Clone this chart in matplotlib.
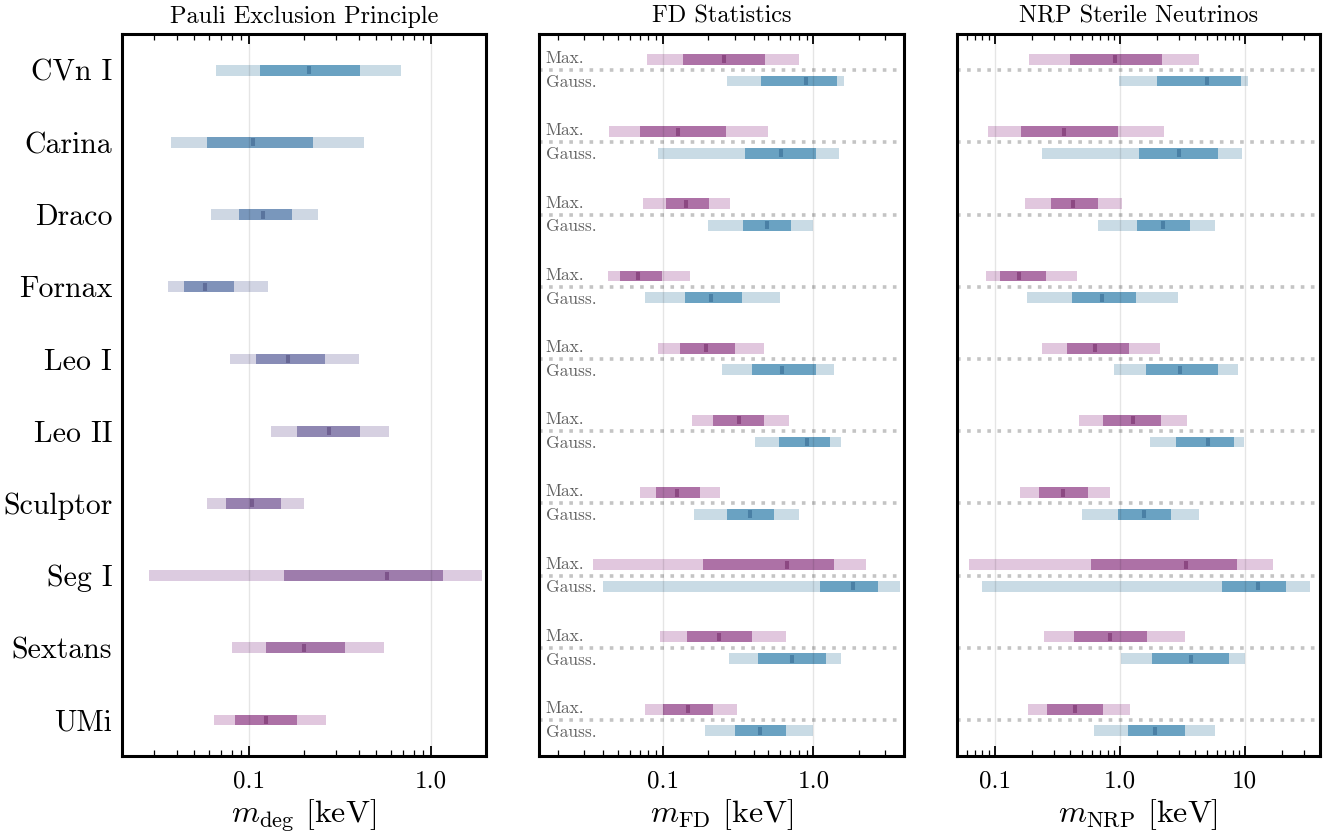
import numpy as np
import matplotlib
matplotlib.use("Agg")
import matplotlib.pyplot as plt
from matplotlib.ticker import FixedLocator, FixedFormatter, LogLocator, NullFormatter
from matplotlib.transforms import blended_transform_factory

plt.rcParams["font.family"] = "serif"
plt.rcParams["font.serif"] = ["cmr10", "DejaVu Serif"]
plt.rcParams["mathtext.fontset"] = "cm"
plt.rcParams["axes.unicode_minus"] = False
plt.rcParams["axes.formatter.use_mathtext"] = True

# galaxies (top to bottom)
galaxies = ["CVn I", "Carina", "Draco", "Fornax", "Leo I", "Leo II",
            "Sculptor", "Seg I", "Sextans", "UMi"]

# Pauli exclusion: 95% lo, 68% lo, median, 68% hi, 95% hi  [keV]
deg_lo95 = [0.066, 0.037, 0.062, 0.036, 0.078, 0.131, 0.059, 0.028, 0.080, 0.064]
deg_lo68 = [0.114, 0.059, 0.088, 0.044, 0.109, 0.182, 0.075, 0.156, 0.123, 0.084]
deg_med = [0.214, 0.105, 0.119, 0.057, 0.164, 0.273, 0.103, 0.571, 0.199, 0.123]
deg_hi68 = [0.405, 0.223, 0.171, 0.083, 0.260, 0.405, 0.150, 1.16, 0.335, 0.182]
deg_hi95 = [0.682, 0.426, 0.238, 0.127, 0.400, 0.586, 0.201, 1.91, 0.549, 0.263]

# FD statistics, maximally degenerate
fdmax_lo95 = [0.078, 0.044, 0.074, 0.043, 0.093, 0.156, 0.070, 0.034, 0.096, 0.076]
fdmax_lo68 = [0.136, 0.070, 0.105, 0.052, 0.130, 0.215, 0.090, 0.185, 0.145, 0.100]
fdmax_med = [0.255, 0.126, 0.142, 0.068, 0.194, 0.321, 0.124, 0.671, 0.236, 0.147]
fdmax_hi68 = [0.479, 0.263, 0.203, 0.099, 0.302, 0.471, 0.176, 1.38, 0.392, 0.215]
fdmax_hi95 = [0.807, 0.501, 0.280, 0.151, 0.471, 0.692, 0.240, 2.22, 0.661, 0.311]

# FD statistics, Gaussian
fdg_lo95 = [0.267, 0.093, 0.200, 0.076, 0.247, 0.410, 0.161, 0.040, 0.275, 0.190]
fdg_lo68 = [0.450, 0.352, 0.341, 0.140, 0.392, 0.593, 0.267, 1.114, 0.430, 0.302]
fdg_med = [0.898, 0.612, 0.494, 0.209, 0.621, 0.912, 0.380, 1.82, 0.724, 0.443]
fdg_hi68 = [1.445, 1.047, 0.713, 0.336, 1.047, 1.297, 0.550, 2.67, 1.221, 0.661]
fdg_hi95 = [1.585, 1.468, 1.000, 0.603, 1.360, 1.514, 0.807, 3.74, 1.514, 1.000]

# NRP sterile neutrinos, maximally degenerate
nrpmax_lo95 = [0.19, 0.088, 0.174, 0.085, 0.238, 0.47, 0.161, 0.062, 0.247, 0.184]
nrpmax_lo68 = [0.398, 0.164, 0.28, 0.11, 0.377, 0.731, 0.225, 0.586, 0.429, 0.261]
nrpmax_med = [0.912, 0.356, 0.421, 0.156, 0.631, 1.27, 0.35, 3.37, 0.832, 0.437]
nrpmax_hi68 = [2.17, 0.964, 0.667, 0.256, 1.18, 2.13, 0.555, 8.63, 1.64, 0.731]
nrpmax_hi95 = [4.29, 2.25, 1.04, 0.453, 2.09, 3.44, 0.832, 16.7, 3.31, 1.2]

# NRP sterile neutrinos, Gaussian
nrpg_lo95 = [0.982, 0.238, 0.667, 0.18, 0.895, 1.74, 0.497, 0.0787, 1.02, 0.62]
nrpg_lo68 = [1.98, 1.42, 1.37, 0.413, 1.61, 2.81, 0.964, 6.55, 1.80, 1.16]
nrpg_med = [4.97, 2.96, 2.21, 0.718, 3.02, 5.06, 1.56, 12.7, 3.70, 1.91]
nrpg_hi68 = [9.29, 6.08, 3.63, 1.34, 6.08, 8.17, 2.56, 21.3, 7.45, 3.31]
nrpg_hi95 = [10.57, 9.46, 5.75, 2.91, 8.79, 9.82, 4.29, 33.1, 10.0, 5.75]

blue_dark = np.array([106, 162, 194]) / 255
blue_light = np.array([201, 219, 229]) / 255
blue_med = np.array([74, 128, 165]) / 255
pur_dark = np.array([173, 113, 166]) / 255
pur_light = np.array([225, 199, 222]) / 255
pur_med = np.array([140, 72, 130]) / 255

bar_h = 0.15


def draw_row(ax, y, lo95, lo68, med, hi68, hi95, c_light, c_dark, c_med):
    ax.barh(y, hi95 - lo95, left=lo95, height=bar_h, color=c_light, lw=0, zorder=2)
    ax.barh(y, hi68 - lo68, left=lo68, height=bar_h, color=c_dark, lw=0, zorder=3)
    ax.plot(med, y, marker="|", ms=5.5, mew=2.9, color=c_med, zorder=4)


def style_axis(ax, xlim, major, labels, xlabel, title):
    ax.set_xscale("log")
    ax.set_xlim(*xlim)
    ax.set_ylim(9.5, -0.5)
    ax.xaxis.set_major_locator(FixedLocator(major))
    ax.xaxis.set_major_formatter(FixedFormatter(labels))
    ax.xaxis.set_minor_locator(LogLocator(base=10, subs=np.arange(2, 10), numticks=20))
    ax.xaxis.set_minor_formatter(NullFormatter())
    ax.tick_params(axis="x", which="major", direction="in", top=True, bottom=True,
                   length=7.5, width=1.3, labelsize=18, pad=10)
    ax.tick_params(axis="x", which="minor", direction="in", top=True, bottom=True,
                   length=4.5, width=0.9)
    ax.tick_params(axis="y", length=0)
    for s in ax.spines.values():
        s.set_linewidth(2.2)
    for m in major:
        ax.axvline(m, color=(0, 0, 0, 0.1), lw=1, zorder=5)
    ax.set_xlabel(xlabel, fontsize=23, labelpad=4)
    ax.set_title(title, fontsize=17.5, pad=8)


fig = plt.figure(figsize=(13.3, 8.39), dpi=100)
ax1 = fig.add_axes([0.0917, 0.0989, 0.2737, 0.8605])
ax2 = fig.add_axes([0.4053, 0.0989, 0.2744, 0.8605])
ax3 = fig.add_axes([0.7195, 0.0989, 0.2730, 0.8605])

ypos = np.arange(len(galaxies))

# panel 1: colour shifts from blue to purple down the list
for i in ypos:
    t = i / (len(galaxies) - 1)
    c_d = (1 - t) * blue_dark + t * pur_dark
    c_l = (1 - t) * blue_light + t * pur_light
    c_m = (1 - t) * blue_med + t * pur_med
    draw_row(ax1, i, deg_lo95[i], deg_lo68[i], deg_med[i], deg_hi68[i], deg_hi95[i], c_l, c_d, c_m)
ax1.set_yticks(ypos)
ax1.set_yticklabels(galaxies, fontsize=21.5)
ax1.tick_params(axis="y", pad=7)
style_axis(ax1, (0.02, 2.0), [0.1, 1.0], ["0.1", "1.0"],
           r"$m_{\rm deg}$ [keV]", "Pauli Exclusion Principle")

panels = [
    (ax2, (fdmax_lo95, fdmax_lo68, fdmax_med, fdmax_hi68, fdmax_hi95),
     (fdg_lo95, fdg_lo68, fdg_med, fdg_hi68, fdg_hi95)),
    (ax3, (nrpmax_lo95, nrpmax_lo68, nrpmax_med, nrpmax_hi68, nrpmax_hi95),
     (nrpg_lo95, nrpg_lo68, nrpg_med, nrpg_hi68, nrpg_hi95)),
]
for ax, mx, gs in panels:
    for i in ypos:
        ax.axhline(i, color="#c4c4c4", lw=2.6, ls=(0, (1, 1.8)), zorder=1)
        draw_row(ax, i - 0.15, *[a[i] for a in mx], pur_light, pur_dark, pur_med)
        draw_row(ax, i + 0.15, *[a[i] for a in gs], blue_light, blue_dark, blue_med)
    ax.set_yticks([])

trans = blended_transform_factory(ax2.transAxes, ax2.transData)
for i in ypos:
    ax2.text(0.018, i - 0.16, "Max.", transform=trans, fontsize=12.5,
             color="#606060", va="center", ha="left")
    ax2.text(0.018, i + 0.17, "Gauss.", transform=trans, fontsize=12.5,
             color="#606060", va="center", ha="left")

style_axis(ax2, (0.015, 4.0), [0.1, 1.0], ["0.1", "1.0"],
           r"$m_{\rm FD}$ [keV]", "FD Statistics")
style_axis(ax3, (0.05, 40.0), [0.1, 1.0, 10.0], ["0.1", "1.0", "10"],
           r"$m_{\rm NRP}$ [keV]", "NRP Sterile Neutrinos")

fig.savefig("out.png", dpi=100)
